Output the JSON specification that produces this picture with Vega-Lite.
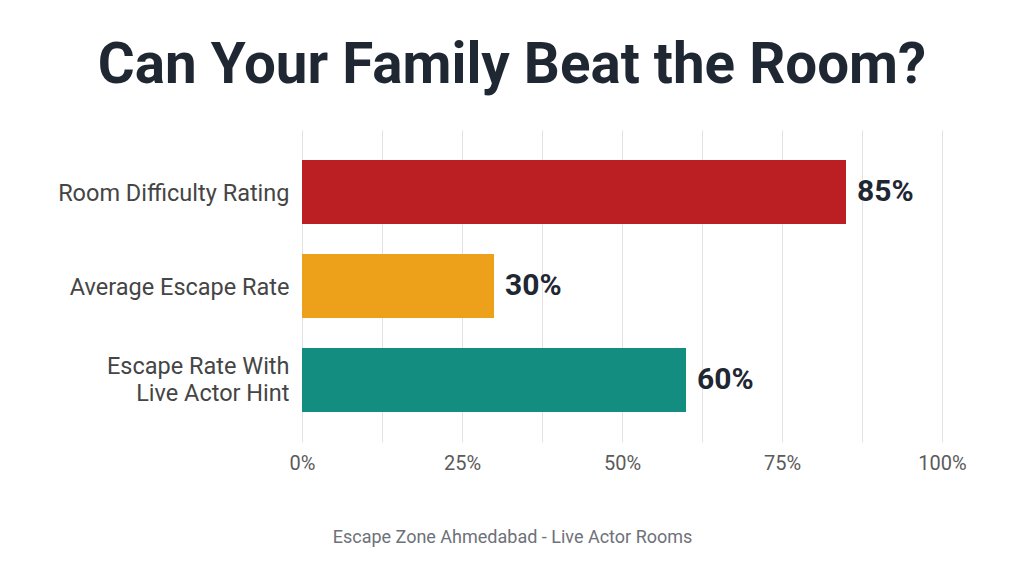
{
  "$schema": "https://vega.github.io/schema/vega-lite/v6.json",
  "autosize": {"type": "none"},
  "width": 640,
  "height": 312,
  "padding": {"left": 302, "top": 130, "right": 82, "bottom": 130},
  "background": "white",
  "config": {"font": "Roboto", "view": {"stroke": null}},
  "title": {
    "text": "Can Your Family Beat the Room?",
    "font": "Roboto",
    "fontSize": 56.5,
    "fontWeight": "bold",
    "color": "#1f2733",
    "anchor": "middle",
    "frame": "group",
    "dx": -110,
    "offset": 36
  },
  "data": {
    "values": [
      {"metric": "Room Difficulty Rating", "value": 85, "label": "85%", "color": "#bc1f23"},
      {"metric": "Average Escape Rate", "value": 30, "label": "30%", "color": "#eda01a"},
      {"metric": "Escape Rate With Live Actor Hint", "value": 60, "label": "60%", "color": "#138d7f"}
    ]
  },
  "encoding": {
    "y": {
      "field": "metric",
      "type": "nominal",
      "sort": null,
      "scale": {"paddingInner": 0.32, "paddingOuter": 0.32},
      "axis": {
        "title": null,
        "domain": false,
        "ticks": false,
        "labelPadding": 13,
        "labelFontSize": 23.5,
        "labelColor": "#454545",
        "labelLineHeight": 27,
        "labelLimit": 400,
        "labelOffset": {"condition": {"test": "datum.value == 'Escape Rate With Live Actor Hint'", "value": -12.5}, "value": 1.5},
        "labelExpr": "datum.label == 'Escape Rate With Live Actor Hint' ? ['Escape Rate With\u00a0', 'Live Actor Hint'] : datum.label"
      }
    },
    "x": {
      "field": "value",
      "type": "quantitative",
      "scale": {"domain": [0, 100]},
      "axis": {
        "title": "Escape Zone Ahmedabad - Live Actor Rooms",
        "titleX": 210,
        "titleY": 95,
        "titleAlign": "center",
        "titleBaseline": "middle",
        "titleFontSize": 18,
        "titleFontWeight": "normal",
        "titleColor": "#6e7179",
        "values": [0, 12.5, 25, 37.5, 50, 62.5, 75, 87.5, 100],
        "labelExpr": "datum.value % 25 == 0 ? datum.value + '%' : ''",
        "labelFontSize": 20,
        "labelColor": "#5b5b5b",
        "labelPadding": 11,
        "labelFlush": false,
        "domain": false,
        "ticks": false,
        "grid": true,
        "gridColor": "#e2e2e2",
        "gridWidth": 1
      }
    }
  },
  "layer": [
    {
      "mark": {"type": "bar"},
      "encoding": {
        "color": {"field": "color", "type": "nominal", "scale": null, "legend": null}
      }
    },
    {
      "mark": {"type": "text", "align": "left", "baseline": "middle", "dx": 11, "fontSize": 30, "fontWeight": "bold", "color": "#1f2733"},
      "encoding": {
        "text": {"field": "label", "type": "nominal"}
      }
    }
  ]
}
